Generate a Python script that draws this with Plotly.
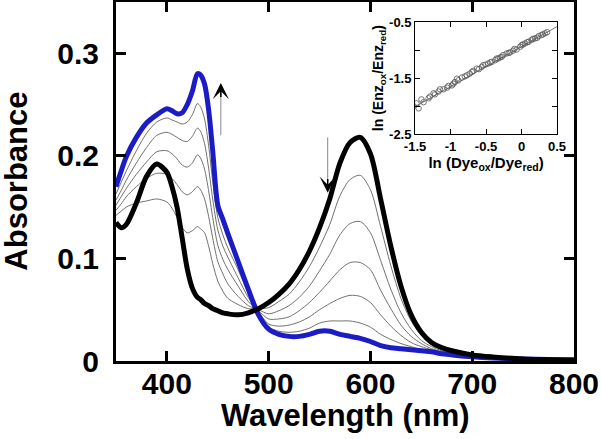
import plotly.graph_objects as go

# ---------------- data ----------------
wavelength = [350, 355, 360, 370, 380, 390, 400, 405, 410, 415,
              420, 425, 430, 433, 437, 441, 445, 450, 455, 460,
              470, 480, 490, 500, 510, 520, 530, 540, 550, 560,
              570, 580, 590, 600, 610, 620, 630, 640, 650, 660,
              670, 680, 700, 720, 750, 800]

abs_initial = [0.135, 0.130, 0.133, 0.154, 0.180, 0.192, 0.184, 0.170, 0.150, 0.120,
               0.090, 0.071, 0.062, 0.060, 0.056, 0.054, 0.051, 0.049, 0.047, 0.046,
               0.045, 0.047, 0.051, 0.057, 0.065, 0.075, 0.089, 0.107, 0.130, 0.158,
               0.193, 0.213, 0.218, 0.202, 0.158, 0.112, 0.073, 0.045, 0.028, 0.018,
               0.013, 0.010, 0.006, 0.004, 0.002, 0.001]

abs_final = [0.170, 0.185, 0.199, 0.218, 0.232, 0.240, 0.246, 0.244, 0.241, 0.242,
             0.250, 0.263, 0.280, 0.279, 0.270, 0.245, 0.205, 0.152, 0.138, 0.124,
             0.097, 0.070, 0.045, 0.031, 0.026, 0.024, 0.024, 0.026, 0.029, 0.029,
             0.026, 0.024, 0.022, 0.019, 0.015, 0.013, 0.012, 0.011, 0.010, 0.009,
             0.007, 0.006, 0.0042, 0.003, 0.002, 0.001]

abs_step1 = [0.142, 0.146, 0.150, 0.154, 0.156, 0.158, 0.155, 0.149, 0.140, 0.130,
             0.125, 0.127, 0.131, 0.129, 0.125, 0.112, 0.095, 0.078, 0.068, 0.061,
             0.055, 0.051, 0.051, 0.052, 0.058, 0.065, 0.077, 0.092, 0.111, 0.133,
             0.161, 0.177, 0.181, 0.167, 0.131, 0.093, 0.061, 0.039, 0.025, 0.016,
             0.012, 0.009, 0.0055, 0.0035, 0.002, 0.001]

abs_step2 = [0.147, 0.153, 0.160, 0.170, 0.178, 0.183, 0.182, 0.178, 0.172, 0.165,
             0.162, 0.165, 0.170, 0.167, 0.158, 0.141, 0.120, 0.097, 0.085, 0.075,
             0.063, 0.054, 0.050, 0.046, 0.049, 0.054, 0.062, 0.073, 0.088, 0.104,
             0.123, 0.134, 0.136, 0.125, 0.098, 0.070, 0.047, 0.031, 0.020, 0.014,
             0.010, 0.008, 0.005, 0.0033, 0.002, 0.001]

abs_step3 = [0.152, 0.160, 0.168, 0.182, 0.194, 0.204, 0.205, 0.202, 0.197, 0.191,
             0.189, 0.193, 0.201, 0.198, 0.187, 0.166, 0.140, 0.113, 0.099, 0.089,
             0.073, 0.058, 0.049, 0.041, 0.041, 0.043, 0.049, 0.057, 0.067, 0.078,
             0.089, 0.096, 0.096, 0.089, 0.069, 0.051, 0.035, 0.024, 0.017, 0.012,
             0.009, 0.007, 0.0045, 0.003, 0.002, 0.001]

abs_step4 = [0.157, 0.166, 0.176, 0.193, 0.208, 0.220, 0.223, 0.221, 0.218, 0.215,
             0.214, 0.219, 0.227, 0.224, 0.212, 0.188, 0.158, 0.128, 0.112, 0.101,
             0.081, 0.062, 0.048, 0.036, 0.034, 0.035, 0.038, 0.043, 0.050, 0.056,
             0.061, 0.064, 0.063, 0.057, 0.045, 0.034, 0.025, 0.018, 0.014, 0.011,
             0.008, 0.0065, 0.0043, 0.003, 0.002, 0.001]

abs_step5 = [0.163, 0.174, 0.185, 0.205, 0.222, 0.233, 0.237, 0.235, 0.233, 0.231,
             0.233, 0.240, 0.251, 0.248, 0.236, 0.210, 0.175, 0.140, 0.123, 0.110,
             0.089, 0.066, 0.047, 0.033, 0.029, 0.028, 0.029, 0.032, 0.037, 0.039,
             0.039, 0.039, 0.037, 0.033, 0.026, 0.021, 0.017, 0.014, 0.011, 0.0097,
             0.0075, 0.006, 0.0042, 0.003, 0.002, 0.001]

# inset: ln(Dye_ox/Dye_red) vs ln(Enz_ox/Enz_red)
ln_dye = [-1.52, -1.45, -1.48, -1.41, -1.38, -1.31, -1.29, -1.24, -1.22, -1.17,
          -1.15, -1.10, -1.05, -1.03, -0.98, -0.96, -0.94, -0.91, -0.89, -0.84,
          -0.80, -0.77, -0.73, -0.70, -0.68, -0.63, -0.60, -0.56, -0.54, -0.51,
          -0.47, -0.44, -0.42, -0.37, -0.35, -0.33, -0.30, -0.28, -0.26, -0.21,
          -0.18, -0.16, -0.12, -0.10, -0.07, -0.02, 0.00, 0.02, 0.05, 0.08,
          0.10, 0.14, 0.16, 0.19, 0.22, 0.24, 0.28, 0.30, 0.33, 0.36]
ln_enz = [-2.00, -2.04, -1.95, -1.88, -1.93, -1.86, -1.83, -1.77, -1.79, -1.74,
          -1.70, -1.70, -1.67, -1.64, -1.63, -1.60, -1.57, -1.51, -1.54, -1.49,
          -1.47, -1.45, -1.42, -1.39, -1.37, -1.33, -1.34, -1.30, -1.27, -1.26,
          -1.24, -1.22, -1.21, -1.18, -1.15, -1.15, -1.13, -1.12, -1.09, -1.06,
          -1.05, -1.04, -1.01, -0.98, -0.99, -0.94, -0.91, -0.90, -0.88, -0.86,
          -0.85, -0.82, -0.80, -0.79, -0.78, -0.75, -0.73, -0.72, -0.70, -0.68]
fit_x = [-1.5, 0.5]
fit_y = [-2.01, -0.58]

x_ticks = [400, 500, 600, 700, 800]
y_ticks = [0, 0.1, 0.2, 0.3]
y_ticklabels = ["0", "0.1", "0.2", "0.3"]
inset_x_ticks = [-1.5, -1, -0.5, 0, 0.5]
inset_x_labels = ["-1.5", "-1", "-0.5", "0", "0.5"]
inset_y_ticks = [-2.5, -2, -1.5, -1, -0.5]
inset_y_labels = ["-2.5", "", "-1.5", "", "-0.5"]

FONT = "Liberation Sans, Arial, sans-serif"
fig = go.Figure()

for ys in [abs_step1, abs_step2, abs_step3, abs_step4, abs_step5]:
    fig.add_trace(go.Scatter(x=wavelength, y=ys, mode="lines",
                             line=dict(color="#606060", width=0.9, shape="spline", smoothing=0.8),
                             showlegend=False, hoverinfo="skip"))
fig.add_trace(go.Scatter(x=wavelength, y=abs_final, mode="lines",
                         line=dict(color="#1c1cc4", width=5, shape="spline", smoothing=0.8),
                         showlegend=False))
fig.add_trace(go.Scatter(x=wavelength, y=abs_initial, mode="lines",
                         line=dict(color="black", width=5, shape="spline", smoothing=0.8),
                         showlegend=False))

# inset
fig.add_trace(go.Scatter(x=fit_x, y=fit_y, mode="lines", xaxis="x2", yaxis="y2",
                         line=dict(color="#555555", width=0.8), showlegend=False))
fig.add_trace(go.Scatter(x=ln_dye, y=ln_enz, mode="markers", xaxis="x2", yaxis="y2",
                         marker=dict(symbol="circle-open", size=5.5, color="#555555",
                                     line=dict(width=0.8)),
                         showlegend=False))

# arrows
fig.add_shape(type="line", x0=453, x1=453, y0=0.220, y1=0.262, xref="x", yref="y",
              line=dict(color="#888888", width=1))
fig.add_annotation(x=453, y=0.271, ax=453, ay=0.256, xref="x", yref="y", axref="x", ayref="y",
                   text="", showarrow=True, arrowhead=3, arrowsize=1.8, arrowwidth=1.5,
                   arrowcolor="black")
fig.add_shape(type="line", x0=558, x1=558, y0=0.218, y1=0.175, xref="x", yref="y",
              line=dict(color="#888888", width=1))
fig.add_annotation(x=558, y=0.164, ax=558, ay=0.179, xref="x", yref="y", axref="x", ayref="y",
                   text="", showarrow=True, arrowhead=3, arrowsize=1.8, arrowwidth=1.5,
                   arrowcolor="black")

big = dict(family=FONT, size=30, color="black", weight="bold")
title_font = dict(family=FONT, size=31, color="black", weight="bold")
small = dict(family=FONT, size=13, color="black", weight="bold")

# axis titles as annotations for precise placement
fig.add_annotation(text="Absorbance", xref="paper", yref="paper", x=-0.218, y=0.5,
                   xanchor="center", yanchor="middle", textangle=-90, showarrow=False,
                   font=title_font)
fig.add_annotation(text="Wavelength (nm)", xref="paper", yref="paper", x=0.5, y=-0.152,
                   xanchor="center", yanchor="middle", showarrow=False, font=title_font)

fig.update_layout(
    width=601, height=439,
    margin=dict(l=116, r=27, t=2, b=78, autoexpand=False),
    paper_bgcolor="white", plot_bgcolor="white",
    xaxis=dict(range=[350, 800], tickvals=x_ticks, ticks="inside", ticklen=10, tickwidth=3,
               tickcolor="black", showline=True, linewidth=3, linecolor="black", mirror="ticks",
               showgrid=False, zeroline=False, tickfont=big, ticklabelstandoff=-6),
    yaxis=dict(range=[0, 0.35], tickvals=y_ticks, ticktext=y_ticklabels, ticks="inside",
               ticklen=10, tickwidth=3, tickcolor="black", showline=True, linewidth=3,
               linecolor="black", mirror="ticks", showgrid=False, zeroline=False, tickfont=big,
               ticklabelstandoff=8),
    xaxis2=dict(domain=[0.653, 0.963], anchor="y2", range=[-1.5, 0.5], tickvals=inset_x_ticks,
                ticktext=inset_x_labels, ticks="inside", ticklen=5, tickwidth=1, tickcolor="black",
                showline=True, linewidth=1, linecolor="black", mirror="ticks", showgrid=False,
                zeroline=False, tickfont=small,
                title=dict(text="ln (Dye<sub>ox</sub>/Dye<sub>red</sub>)",
                           font=dict(family=FONT, size=15, color="black", weight="bold"), standoff=2)),
    yaxis2=dict(domain=[0.632, 0.944], anchor="x2", range=[-2.5, -0.5], tickvals=inset_y_ticks,
                ticktext=inset_y_labels, ticks="inside", ticklen=5, tickwidth=1, tickcolor="black",
                showline=True, linewidth=1, linecolor="black", mirror="ticks", showgrid=False,
                zeroline=False, tickfont=small,
                title=dict(text="ln (Enz<sub>ox</sub>/Enz<sub>red</sub>)",
                           font=dict(family=FONT, size=14, color="black", weight="bold"), standoff=2)),
)

fig.write_html("out.html", config={"displayModeBar": False},
               post_script="document.body.style.margin='0';document.body.style.padding='0';")
